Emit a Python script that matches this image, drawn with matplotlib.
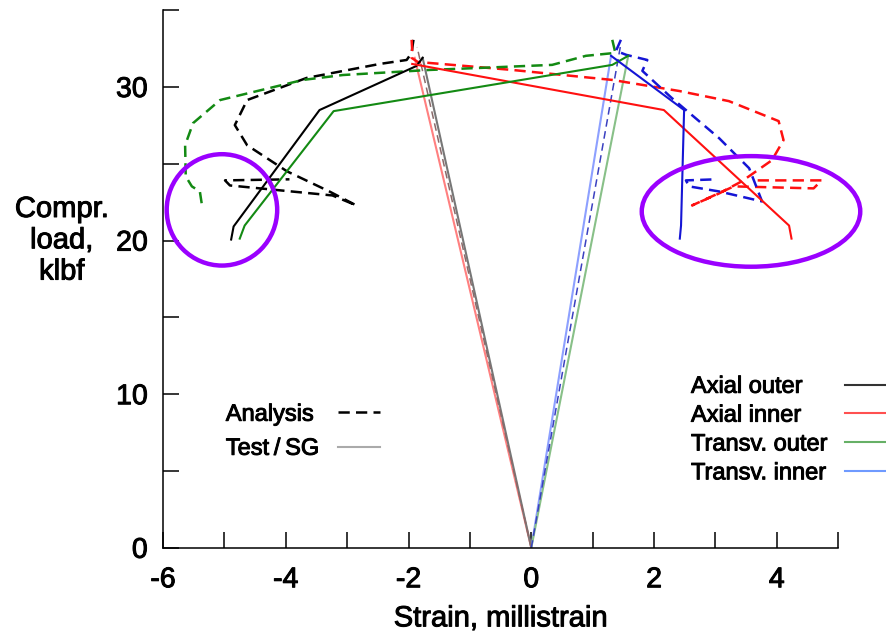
import matplotlib.pyplot as plt
import matplotlib.patheffects as pe
from matplotlib.patches import Ellipse
from matplotlib.lines import Line2D

plt.rcParams['font.family'] = ['Liberation Sans', 'DejaVu Sans']

# --- analysis, solid (strain in millistrain, load in klbf)
ax_out_x = [-4.89, -4.85, -3.45, -1.87, -1.77]
ax_out_y = [20.07, 20.92, 28.50, 31.37, 31.90]
ax_in_x = [-1.94, 2.16, 4.20, 4.24]
ax_in_y = [31.50, 28.50, 20.98, 20.13]
tr_out_x = [-4.75, -4.67, -3.22, 1.32, 1.58]
tr_out_y = [20.13, 20.98, 28.43, 31.44, 32.03]
tr_in_x = [1.30, 2.49, 2.44, 2.42]
tr_in_y = [32.03, 28.50, 20.98, 20.13]

# --- analysis, dashed: linear part from the origin
lin_left_x = [0, -1.86]
lin_left_y = [0, 32.6]
lin_right_x = [0, 1.45]
lin_right_y = [0, 32.6]

# --- analysis, dashed: post-peak part
d_ax_out_x = [-1.92, -1.95, -2.03, -2.47, -3.66, -4.63, -4.83, -4.63, -3.98,
              -3.29, -2.85, -3.24, -4.91, -4.99, -3.94]
d_ax_out_y = [33.07, 32.22, 31.76, 31.50, 30.59, 29.15, 27.52, 26.21, 24.51,
              23.20, 22.29, 22.94, 23.59, 23.92, 23.99]
d_ax_in_x = [-1.95, -1.94, -1.95, -1.85, -0.31, 1.32, 2.41, 3.22, 4.03, 4.11,
             3.92, 3.43, 3.06, 2.62, 3.30, 4.60, 4.73, 3.68]
d_ax_in_y = [33.07, 32.42, 31.90, 31.63, 31.11, 30.46, 29.74, 29.08, 27.78, 26.54,
             25.23, 23.86, 23.07, 22.29, 23.53, 23.40, 23.92, 23.92]
d_tr_out_x = [1.32, 1.37, 0.89, 0.34, -0.85, -1.66, -3.07, -3.72, -5.07, -5.51,
              -5.64, -5.63, -5.53, -5.40, -5.37]
d_tr_out_y = [33.07, 32.22, 32.03, 31.44, 31.24, 31.11, 30.78, 30.46, 29.15, 27.65,
              26.21, 24.18, 23.53, 23.20, 22.42]
d_tr_in_x = [1.46, 1.38, 1.55, 1.89, 1.81, 2.29, 3.06, 3.55, 3.76, 3.06, 2.57,
             2.52, 3.01]
d_tr_in_y = [33.07, 32.35, 32.09, 31.76, 31.05, 29.28, 26.67, 24.71, 22.55, 23.20,
             23.53, 23.92, 23.99]

# --- test / strain gauge (origin to peak)
t_ax_out_x = [0, -1.77]
t_ax_out_y = [0, 31.90]
t_ax_in_x = [0, -1.90]
t_ax_in_y = [0, 31.90]
t_tr_out_x = [0, 1.58]
t_tr_out_y = [0, 32.03]
t_tr_in_x = [0, 1.30]
t_tr_in_y = [0, 32.03]

x_ticks = [-6, -5, -4, -3, -2, -1, 0, 1, 2, 3, 4, 5]
x_labels = ['-6', '', '-4', '', '-2', '', '0', '', '2', '', '4', '']
y_ticks = [0, 5, 10, 15, 20, 25, 30, 35]
y_labels = ['0', '', '10', '', '20', '', '30', '']

style_names = ['Analysis', 'Test\u2009/\u2009SG']
gauge_names = ['Axial outer', 'Axial inner', 'Transv. outer', 'Transv. inner']

c_k, c_r, c_g, c_b = '#000000', '#ff1010', '#138a13', '#1515d5'
l_k, l_r, l_g, l_b = '#777777', '#ff8080', '#88c088', '#8da0ff'
purple = '#9a00ff'
dash = (4.5, 2.5)
heavy = [pe.withStroke(linewidth=0.7, foreground='black')]

fig = plt.figure(figsize=(8.86, 6.37), dpi=100)
ax = fig.add_axes([0.184, 0.140, 0.762, 0.844])

# test lines
for x, y, c in [(t_ax_in_x, t_ax_in_y, l_r), (t_ax_out_x, t_ax_out_y, l_k),
                (t_tr_in_x, t_tr_in_y, l_b), (t_tr_out_x, t_tr_out_y, l_g)]:
    ax.plot(x, y, color=c, lw=1.5)

# linear analysis part (thin dashed)
ax.plot(lin_left_x, lin_left_y, color='#8a6a6a', lw=1.1, ls=(0, (5, 3)))
ax.plot(lin_right_x, lin_right_y, color='#3a40c0', lw=1.1, ls=(0, (5, 3)))

# analysis dashed
for x, y, c in [(d_ax_out_x, d_ax_out_y, c_k), (d_ax_in_x, d_ax_in_y, c_r),
                (d_tr_out_x, d_tr_out_y, c_g), (d_tr_in_x, d_tr_in_y, c_b)]:
    ax.plot(x, y, color=c, lw=1.8, ls=(0, dash))

# analysis solid
for x, y, c in [(ax_out_x, ax_out_y, c_k), (ax_in_x, ax_in_y, c_r),
                (tr_out_x, tr_out_y, c_g), (tr_in_x, tr_in_y, c_b)]:
    ax.plot(x, y, color=c, lw=1.5)

ax.add_patch(Ellipse((-5.04, 22.0), 1.8, 7.25, fill=False, ec=purple, lw=3.2,
                     clip_on=False, zorder=5))
ax.add_patch(Ellipse((3.58, 21.9), 3.56, 7.2, fill=False, ec=purple, lw=3.2,
                     clip_on=False, zorder=5))

ax.set_xlim(-6, 5)
ax.set_ylim(0, 35)
ax.set_xticks(x_ticks)
ax.set_xticklabels(x_labels)
ax.set_yticks(y_ticks)
ax.set_yticklabels(y_labels)
for s in ['top', 'right']:
    ax.spines[s].set_visible(False)
for s in ['left', 'bottom']:
    ax.spines[s].set_linewidth(1.1)
ax.tick_params(axis='both', direction='in', length=11.5, width=1.1, labelsize=20.5)
ax.tick_params(axis='x', pad=14)
ax.tick_params(axis='y', pad=11)

ax.set_xlabel('Strain, millistrain', fontsize=21, labelpad=8)
ax.set_ylabel('Compr.\nload,\nklbf', fontsize=21, rotation=0, ha='center',
              va='center', linespacing=1.15)
ax.yaxis.set_label_coords(-0.150, 0.572)

# legends: text column and line column kept apart so text stays left aligned
blank = Line2D([], [], lw=0)
common = dict(loc='upper left', frameon=False, fontsize=17, borderpad=0,
              borderaxespad=0)

leg_a = ax.legend([blank] * 2, style_names, bbox_to_anchor=(0.093, 0.268),
                  handlelength=0, handletextpad=0, labelspacing=0.51, **common)
ax.add_artist(leg_a)
h1 = [Line2D([], [], color=c_k, lw=1.8, ls=(0, dash)),
      Line2D([], [], color='#aaaaaa', lw=1.5)]
leg_b = ax.legend(h1, ['', ''], bbox_to_anchor=(0.259, 0.268), handlelength=1.78,
                  handletextpad=0, labelspacing=0.51, **common)
ax.add_artist(leg_b)

leg_c = ax.legend([blank] * 4, gauge_names, bbox_to_anchor=(0.782, 0.320),
                  handlelength=0, handletextpad=0, labelspacing=0.29, **common)
ax.add_artist(leg_c)
h2 = [Line2D([], [], color='#333333', lw=1.5),
      Line2D([], [], color='#ff5050', lw=1.5),
      Line2D([], [], color='#66b066', lw=1.5),
      Line2D([], [], color='#6f9aff', lw=1.5)]
ax.legend(h2, [''] * 4, bbox_to_anchor=(1.010, 0.320), handlelength=2.0,
          handletextpad=0, labelspacing=0.29, **common)

# slightly heavier text, closer to the original rendering
texts = ax.get_xticklabels() + ax.get_yticklabels()
texts += [ax.xaxis.label, ax.yaxis.label]
texts += leg_a.get_texts() + leg_c.get_texts()
for t in texts:
    t.set_path_effects(heavy)

fig.savefig('out.png', dpi=100)
